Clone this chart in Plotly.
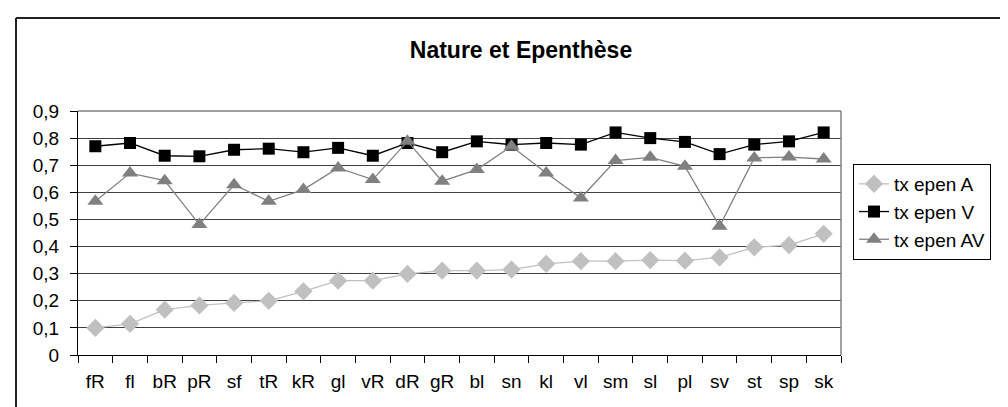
import plotly.graph_objects as go

categories = ["fR", "fl", "bR", "pR", "sf", "tR", "kR", "gl", "vR", "dR", "gR",
              "bl", "sn", "kl", "vl", "sm", "sl", "pl", "sv", "st", "sp", "sk"]
tx_epen_A = [0.100, 0.115, 0.167, 0.183, 0.192, 0.200, 0.235, 0.274, 0.274, 0.299, 0.311,
             0.311, 0.315, 0.336, 0.346, 0.346, 0.350, 0.348, 0.360, 0.397, 0.405, 0.447]
tx_epen_V = [0.770, 0.782, 0.735, 0.733, 0.757, 0.761, 0.748, 0.764, 0.735, 0.782, 0.748,
             0.788, 0.776, 0.782, 0.776, 0.821, 0.800, 0.786, 0.741, 0.776, 0.788, 0.821]
tx_epen_AV = [0.567, 0.671, 0.643, 0.481, 0.628, 0.567, 0.610, 0.690, 0.647, 0.788, 0.641,
              0.684, 0.770, 0.671, 0.579, 0.717, 0.729, 0.696, 0.475, 0.727, 0.730, 0.723]
y_ticks = [0, 0.1, 0.2, 0.3, 0.4, 0.5, 0.6, 0.7, 0.8, 0.9]

FONT = "Liberation Sans, Arial, sans-serif"
W, H = 1008, 407
L, R, T, B = 70, 175, 103, 60
pw, ph = W - L - R, H - T - B

fig = go.Figure()
fig.add_trace(go.Scatter(x=categories, y=tx_epen_A, name="tx epen A", mode="lines+markers",
                         line=dict(color="#c0c0c0", width=1.3),
                         marker=dict(symbol="diamond", size=14, color="#c0c0c0")))
fig.add_trace(go.Scatter(x=categories, y=tx_epen_V, name="tx epen V", mode="lines+markers",
                         line=dict(color="#000000", width=1.3),
                         marker=dict(symbol="square", size=12, color="#000000")))
fig.add_trace(go.Scatter(x=categories, y=tx_epen_AV, name="tx epen AV", mode="lines+markers",
                         line=dict(color="#808080", width=1.3),
                         marker=dict(symbol="triangle-up", size=14, color="#808080")))

fig.update_layout(
    width=W, height=H,
    margin=dict(l=L, r=R, t=T, b=B, autoexpand=False),
    paper_bgcolor="white", plot_bgcolor="white",
    separators=", ",
    font=dict(family=FONT, size=19, color="black"),
    title=dict(text="<b>Nature et Epenthèse</b>", x=513 / W, xanchor="center",
               y=1 - 42 / H, yanchor="middle", font=dict(size=23, family=FONT)),
    showlegend=True,
    legend=dict(x=(845 - L) / pw, y=(H - B - 156) / ph, xanchor="left", yanchor="top",
                bordercolor="black", borderwidth=1, bgcolor="white",
                font=dict(size=19, family=FONT), tracegroupgap=0),
    xaxis=dict(type="category", range=[-0.5, len(categories) - 0.5],
               showline=True, linecolor="black", linewidth=1,
               ticks="outside", ticklen=7, tickcolor="black", tickson="boundaries",
               ticklabelstandoff=9,
               showgrid=False, tickfont=dict(size=19), fixedrange=True),
    yaxis=dict(range=[0, 0.9], tickvals=y_ticks, showline=True, linecolor="black",
               linewidth=1, ticks="outside", ticklen=7, tickcolor="black",
               ticklabelstandoff=7,
               showgrid=True, gridcolor="#404040", gridwidth=1, zeroline=False,
               tickfont=dict(size=19), fixedrange=True),
    shapes=[
        dict(type="line", xref="paper", yref="paper", x0=1, x1=1, y0=0, y1=1,
             line=dict(color="#808080", width=1.5)),
        dict(type="line", xref="paper", yref="paper", x0=0, x1=1, y0=1, y1=1,
             line=dict(color="#808080", width=1.5)),
        dict(type="line", xref="paper", yref="paper", x0=(8 - L) / pw, x1=(W + 5 - L) / pw,
             y0=(H - B - 10) / ph, y1=(H - B - 10) / ph, line=dict(color="#222", width=2)),
        dict(type="line", xref="paper", yref="paper", x0=(8 - L) / pw, x1=(8 - L) / pw,
             y0=(H - B - 10) / ph, y1=-(B + 5) / ph, line=dict(color="#222", width=2)),
    ],
)

fig.write_html("out.html")
